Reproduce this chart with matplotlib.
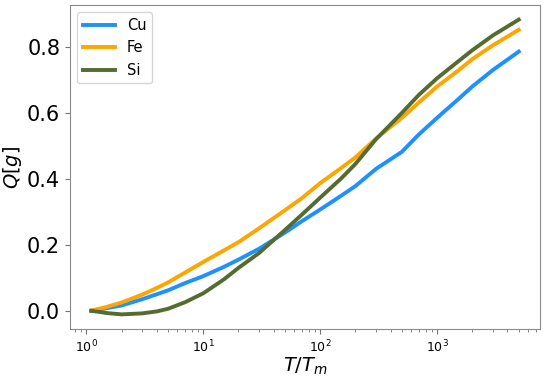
import matplotlib
matplotlib.use("Agg")
import matplotlib.pyplot as plt

# T/Tm sample points
T = [1.1, 1.5, 2, 3, 4, 5, 7, 10, 15, 20, 30, 50, 70, 100, 150, 200, 300,
     500, 700, 1000, 1500, 2000, 3000, 5000]

cu = [0.0, 0.008, 0.016, 0.035, 0.050, 0.062, 0.084, 0.105, 0.133, 0.155,
      0.188, 0.237, 0.272, 0.307, 0.348, 0.378, 0.43, 0.482, 0.535, 0.585,
      0.64, 0.68, 0.73, 0.786]
fe = [0.0, 0.012, 0.025, 0.049, 0.069, 0.086, 0.116, 0.148, 0.183, 0.208,
      0.25, 0.305, 0.342, 0.387, 0.432, 0.465, 0.522, 0.585, 0.632, 0.68,
      0.727, 0.763, 0.805, 0.852]
si = [0.0, -0.007, -0.011, -0.008, -0.002, 0.006, 0.026, 0.053, 0.095, 0.13,
      0.175, 0.245, 0.292, 0.343, 0.40, 0.445, 0.52, 0.60, 0.655, 0.705,
      0.755, 0.79, 0.835, 0.883]

fig = plt.figure(figsize=(5.5, 3.77), dpi=100)
ax = fig.add_axes([0.127, 0.127, 0.855, 0.86])

ax.plot(T, cu, color='#1e90ff', lw=2.8, label='Cu')
ax.plot(T, fe, color='#ffa500', lw=2.8, label='Fe')
ax.plot(T, si, color='#556b2f', lw=2.8, label='Si')

ax.set_xscale('log')
ax.set_yticks([0.0, 0.2, 0.4, 0.6, 0.8])
ax.tick_params(axis='y', labelsize=15, colors='0.45', labelcolor='black')
ax.tick_params(axis='x', which='both', labelsize=9, colors='0.45', labelcolor='black')

ax.set_xlabel('$T/T_m$', fontsize=14, labelpad=0)
ax.set_ylabel('$Q[g]$', fontsize=14, labelpad=2)

for s in ax.spines.values():
    s.set_color('0.55')

ax.legend(loc='upper left', fontsize=10.5, handlelength=2.2)

plt.savefig('out.png', dpi=100)
